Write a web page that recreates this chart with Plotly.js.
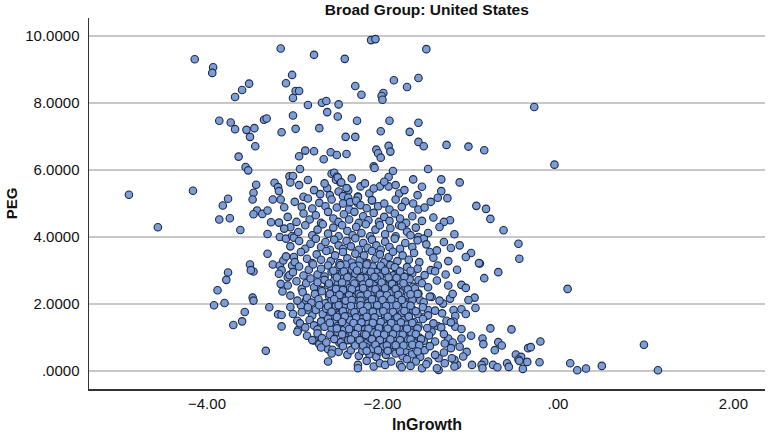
<!DOCTYPE html>
<html>
<head>
<meta charset="utf-8">
<script src="https://cdn.plot.ly/plotly-3.0.1.min.js"></script>
<style>
  html, body { margin: 0; padding: 0; background: #fff; }
  #chart { width: 769px; height: 436px; }
</style>
</head>
<body>
<div id="chart"></div>
<script>
// [lnGrowth, PEG] pairs, grouped by region
const upperPoints = [
  [-4.14, 9.31], [-3.93, 9.07], [-3.94, 8.90], [-3.16, 9.63], [-2.78, 9.44], [-2.43, 9.32],
  [-3.03, 8.84], [-3.10, 8.59], [-3.52, 8.58], [-3.60, 8.39], [-3.68, 8.18], [-2.99, 8.36],
  [-2.95, 8.36], [-3.02, 8.15], [-2.85, 7.94], [-2.69, 8.01], [-2.64, 8.06], [-2.50, 7.96],
  [-2.63, 7.73], [-2.51, 7.60], [-3.02, 7.63], [-3.86, 7.47], [-3.73, 7.42], [-3.68, 7.22],
  [-3.55, 7.20], [-3.46, 7.25], [-3.51, 6.99], [-3.35, 7.50], [-3.32, 7.54], [-3.15, 7.13],
  [-2.99, 7.23], [-2.72, 7.25], [-2.42, 6.99], [-3.45, 6.71], [-3.64, 6.40], [-3.56, 6.09],
  [-3.53, 5.99], [-2.95, 6.41], [-2.88, 6.58], [-2.78, 6.56], [-2.67, 6.32], [-2.59, 6.53],
  [-2.52, 6.45], [-2.41, 6.48], [-2.94, 6.03], [-3.06, 5.81], [-3.02, 5.82], [-3.05, 5.63],
  [-2.58, 5.89], [-2.55, 5.92], [-2.52, 5.80], [-2.53, 5.71], [-2.48, 5.63], [-2.51, 5.78],
  [-2.40, 5.44], [-2.63, 5.46], [-2.71, 5.28], [-2.50, 5.36], [-3.44, 5.56], [-3.23, 5.62],
  [-3.19, 5.49], [-3.18, 5.37], [-3.47, 5.32], [-4.89, 5.26], [-4.16, 5.38],
  [-2.13, 9.88], [-2.08, 9.91], [-1.50, 9.61], [-2.31, 8.51], [-2.24, 8.25], [-1.87, 8.68],
  [-1.59, 8.75], [-1.72, 8.48], [-1.99, 8.30], [-2.01, 8.21], [-2.00, 8.10], [-0.27, 7.88],
  [-2.29, 7.47], [-1.92, 7.47], [-1.59, 7.41], [-2.02, 7.16], [-1.69, 7.14], [-2.31, 6.99],
  [-1.93, 6.72], [-1.91, 6.55], [-1.59, 6.84], [-1.53, 6.71], [-1.27, 6.75], [-1.02, 6.70],
  [-0.84, 6.59], [-2.07, 6.61], [-2.05, 6.50], [-2.02, 6.37], [-2.10, 6.11], [-2.09, 6.06],
  [-1.88, 5.97], [-1.48, 6.03], [-0.04, 6.16], [-1.93, 5.79], [-1.33, 5.72], [-1.12, 5.63],
  [-2.25, 5.51], [-2.03, 5.51], [-1.93, 5.51], [-1.33, 5.37], [-1.81, 5.30], [-2.47, 5.63],
  [-2.39, 5.39], [-2.41, 5.46], [-2.28, 5.21], [-1.37, 5.17], [-1.26, 5.16]
];

const leftPoints = [
  [-4.56, 4.29], [-3.76, 5.14], [-3.82, 4.94], [-3.86, 4.52], [-3.74, 4.56], [-3.62, 4.21],
  [-3.48, 5.12], [-3.25, 5.12], [-3.16, 5.12], [-3.12, 4.89], [-3.43, 4.79], [-3.37, 4.69],
  [-3.31, 4.79], [-3.47, 4.68], [-3.27, 4.44], [-3.18, 4.43], [-3.31, 4.09], [-3.05, 4.29],
  [-3.17, 4.00], [-3.10, 3.95], [-3.03, 4.03], [-3.01, 3.98], [-3.31, 3.50], [-3.51, 3.18],
  [-3.47, 2.97], [-3.50, 3.01], [-3.76, 2.94], [-3.78, 2.72], [-3.88, 2.41], [-3.92, 1.96],
  [-3.80, 2.03], [-3.48, 2.19], [-3.47, 2.10], [-3.57, 1.76], [-3.60, 1.48], [-3.70, 1.37],
  [-3.29, 1.90], [-3.33, 0.60], [-3.25, 3.18], [-3.17, 3.15], [-3.13, 3.30], [-3.15, 3.01],
  [-3.18, 2.90], [-3.16, 2.60], [-3.14, 2.37], [-3.19, 1.69], [-3.15, 1.67], [-3.15, 1.33],
  [-3.05, 1.91], [-3.02, 1.70], [-2.97, 1.50], [-2.96, 1.23], [-2.97, 1.17], [-3.08, 2.80],
  [-3.06, 2.86], [-3.03, 3.15], [-3.01, 3.40], [-2.93, 1.96], [-2.87, 2.11], [-2.84, 1.81],
  [-2.78, 0.91], [-2.72, 0.80], [-2.62, 0.28], [-2.62, 0.65], [-2.57, 0.63], [-2.50, 0.57],
  [-2.49, 0.84]
];

const rightPoints = [
  [-0.82, 4.84], [-0.77, 4.54], [-0.62, 4.20], [-0.45, 3.80], [-0.44, 3.35], [-0.89, 3.21],
  [-0.84, 2.77], [-0.68, 2.95], [0.11, 2.45], [-0.77, 1.27], [-0.53, 1.24], [-0.86, 0.97],
  [-0.85, 0.80], [-0.68, 0.86], [-0.64, 0.76], [-0.72, 0.62], [-0.34, 0.68], [-0.31, 0.71],
  [-0.20, 0.88], [-0.48, 0.49], [-0.42, 0.42], [-0.45, 0.34], [-0.44, 0.30], [-0.35, 0.27],
  [-0.21, 0.26], [-0.84, 0.27], [-0.87, 0.18], [-0.86, 0.08], [-0.74, 0.18], [-0.69, 0.11],
  [-0.58, 0.23], [-0.56, 0.12], [-0.40, 0.06], [0.14, 0.23], [0.22, 0.02], [0.32, 0.07],
  [0.50, 0.15], [0.98, 0.78], [1.14, 0.02],
  [-1.74, 5.06], [-1.59, 4.82], [-0.93, 4.93], [-1.23, 4.50], [-1.81, 4.35], [-1.72, 4.16],
  [-1.59, 4.00], [-1.53, 3.95], [-1.46, 3.55], [-1.38, 3.60], [-1.22, 3.67], [-0.99, 3.52],
  [-0.90, 3.22], [-1.45, 3.01], [-1.37, 3.15], [-1.10, 2.57], [-0.95, 2.19], [-0.94, 1.88],
  [-1.23, 2.16], [-1.31, 2.01], [-1.10, 1.84], [-1.19, 1.82], [-1.17, 1.64], [-1.19, 1.47],
  [-1.17, 1.32], [-0.99, 1.05], [-1.27, 1.50], [-1.25, 0.97], [-1.29, 0.82], [-1.10, 0.97],
  [-1.12, 0.72], [-1.04, 0.57], [-1.08, 0.43], [-1.15, 0.18], [-1.18, 0.33], [-1.21, 0.38],
  [-0.98, 0.18], [-1.36, 0.38], [-1.36, 0.03], [-1.48, 0.28], [-1.40, 0.48], [-1.37, 1.34],
  [-1.44, 1.17], [-1.52, 1.62], [-1.48, 1.82], [-1.44, 2.21], [-1.57, 2.11], [-1.59, 2.71],
  [-1.70, 2.81], [-1.65, 2.51], [-1.59, 2.31]
];

const corePoints = [
  [-2.95, 5.55], [-2.85, 5.70], [-2.78, 5.40], [-2.66, 5.60], [-2.60, 5.25], [-2.35, 5.75],
  [-2.20, 5.60], [-2.15, 5.30], [-2.10, 5.45], [-1.98, 5.65], [-1.85, 5.55], [-1.75, 5.40],
  [-1.65, 5.72], [-1.60, 5.25], [-1.55, 5.50], [-2.90, 5.20], [-2.45, 5.22],
  [-2.39, 5.17], [-2.37, 5.04], [-2.28, 5.19], [-2.28, 5.01], [-2.12, 5.09],
  [-3.00, 5.05], [-2.92, 4.90], [-2.85, 5.15], [-2.80, 4.85], [-2.72, 5.02], [-2.65, 4.92],
  [-2.58, 5.12], [-2.52, 4.88], [-2.45, 5.00], [-2.38, 4.82], [-2.30, 5.08], [-2.25, 4.95],
  [-2.18, 4.86], [-2.12, 5.10], [-2.05, 4.92], [-1.98, 5.00], [-1.92, 4.82], [-1.85, 5.12],
  [-1.78, 4.90], [-1.65, 5.00], [-1.52, 4.88], [-1.45, 5.05],
  [-3.08, 4.60], [-2.98, 4.45], [-2.90, 4.70], [-2.83, 4.52], [-2.76, 4.65], [-2.70, 4.42],
  [-2.62, 4.75], [-2.56, 4.55], [-2.50, 4.45], [-2.44, 4.68], [-2.38, 4.52], [-2.32, 4.75],
  [-2.27, 4.42], [-2.22, 4.62], [-2.16, 4.50], [-2.10, 4.72], [-2.04, 4.45], [-1.98, 4.60],
  [-1.92, 4.48], [-1.86, 4.70], [-1.80, 4.55], [-1.73, 4.42], [-1.66, 4.62], [-1.55, 4.48],
  [-1.42, 4.58], [-1.30, 4.45],
  [-3.12, 4.25], [-2.96, 4.15], [-2.88, 4.35], [-2.80, 4.05], [-2.74, 4.22], [-2.68, 4.38],
  [-2.62, 4.10], [-2.56, 4.28], [-2.50, 4.02], [-2.46, 4.35], [-2.40, 4.18], [-2.34, 4.05],
  [-2.30, 4.30], [-2.24, 4.12], [-2.19, 4.38], [-2.14, 4.02], [-2.08, 4.22], [-2.03, 4.35],
  [-1.97, 4.08], [-1.91, 4.26], [-1.85, 4.02], [-1.78, 4.32], [-1.68, 4.05], [-1.62, 4.28],
  [-1.48, 4.12], [-1.35, 4.30], [-1.18, 4.08],
  [-3.05, 3.72], [-2.95, 3.88], [-2.88, 3.65], [-2.82, 3.80], [-2.76, 3.95], [-2.70, 3.70],
  [-2.65, 3.85], [-2.60, 3.62], [-2.55, 3.92], [-2.50, 3.75], [-2.45, 3.64], [-2.41, 3.88],
  [-2.36, 3.72], [-2.31, 3.96], [-2.27, 3.62], [-2.22, 3.82], [-2.17, 3.68], [-2.12, 3.92],
  [-2.07, 3.75], [-2.02, 3.62], [-1.97, 3.86], [-1.92, 3.70], [-1.86, 3.95], [-1.80, 3.65],
  [-1.74, 3.82], [-1.66, 3.70], [-1.60, 3.90], [-1.50, 3.78], [-1.30, 3.85], [-1.12, 3.75],
  [-3.10, 3.42], [-3.00, 3.25], [-2.93, 3.55], [-2.86, 3.35], [-2.80, 3.22], [-2.75, 3.48],
  [-2.70, 3.32], [-2.64, 3.58], [-2.59, 3.28], [-2.54, 3.45], [-2.49, 3.22], [-2.45, 3.55],
  [-2.40, 3.36], [-2.35, 3.24], [-2.31, 3.50], [-2.26, 3.30], [-2.21, 3.45], [-2.17, 3.22],
  [-2.12, 3.58], [-2.08, 3.35], [-2.03, 3.48], [-1.98, 3.25], [-1.93, 3.40], [-1.88, 3.56],
  [-1.83, 3.28], [-1.77, 3.45], [-1.70, 3.32], [-1.64, 3.52], [-1.58, 3.25], [-1.42, 3.38],
  [-1.25, 3.28], [-1.05, 3.40],
  [-3.02, 2.95], [-2.95, 3.12], [-2.90, 2.85], [-2.84, 3.02], [-2.79, 3.18], [-2.74, 2.88],
  [-2.70, 3.05], [-2.66, 2.82], [-2.62, 3.15], [-2.58, 2.96], [-2.54, 2.84], [-2.50, 3.10],
  [-2.46, 2.92], [-2.42, 3.18], [-2.38, 2.85], [-2.35, 3.02], [-2.31, 2.90], [-2.27, 3.14],
  [-2.23, 2.83], [-2.19, 3.00], [-2.15, 2.88], [-2.11, 3.12], [-2.07, 2.95], [-2.03, 2.82],
  [-1.99, 3.06], [-1.95, 2.90], [-1.91, 3.16], [-1.87, 2.86], [-1.82, 3.00], [-1.77, 2.84],
  [-1.72, 3.10], [-1.66, 2.92], [-1.60, 3.05], [-1.52, 2.86], [-1.40, 2.98], [-1.28, 2.88],
  [-1.15, 3.02],
  [-3.08, 2.55], [-2.98, 2.68], [-2.92, 2.45], [-2.87, 2.62], [-2.82, 2.76], [-2.78, 2.50],
  [-2.74, 2.65], [-2.70, 2.42], [-2.66, 2.72], [-2.62, 2.56], [-2.58, 2.44], [-2.55, 2.70],
  [-2.51, 2.58], [-2.48, 2.46], [-2.44, 2.76], [-2.41, 2.62], [-2.37, 2.48], [-2.34, 2.70],
  [-2.30, 2.54], [-2.27, 2.42], [-2.24, 2.66], [-2.20, 2.78], [-2.17, 2.52], [-2.13, 2.40],
  [-2.10, 2.64], [-2.06, 2.75], [-2.03, 2.50], [-1.99, 2.60], [-1.95, 2.44], [-1.91, 2.72],
  [-1.87, 2.56], [-1.83, 2.42], [-1.79, 2.68], [-1.74, 2.52], [-1.69, 2.74], [-1.63, 2.46],
  [-1.55, 2.62], [-1.48, 2.50], [-1.38, 2.70], [-1.25, 2.55], [-1.05, 2.48],
  [-3.05, 2.25], [-2.97, 2.10], [-2.91, 2.35], [-2.86, 2.18], [-2.81, 2.04], [-2.77, 2.30],
  [-2.73, 2.14], [-2.69, 2.38], [-2.65, 2.02], [-2.61, 2.24], [-2.58, 2.12], [-2.54, 2.36],
  [-2.51, 2.06], [-2.47, 2.28], [-2.44, 2.16], [-2.40, 2.02], [-2.37, 2.34], [-2.33, 2.20],
  [-2.30, 2.08], [-2.27, 2.30], [-2.23, 2.14], [-2.20, 2.38], [-2.16, 2.04], [-2.13, 2.26],
  [-2.09, 2.12], [-2.06, 2.36], [-2.02, 2.02], [-1.99, 2.22], [-1.95, 2.10], [-1.92, 2.32],
  [-1.88, 2.00], [-1.84, 2.18], [-1.80, 2.34], [-1.76, 2.08], [-1.71, 2.26], [-1.66, 2.12],
  [-1.60, 2.30], [-1.53, 2.05], [-1.46, 2.22], [-1.35, 2.10], [-1.20, 2.30], [-1.02, 2.12],
  [-2.92, 1.75], [-2.85, 1.90], [-2.80, 1.66], [-2.76, 1.82], [-2.72, 1.96], [-2.68, 1.70],
  [-2.64, 1.86], [-2.60, 1.62], [-2.56, 1.78], [-2.53, 1.94], [-2.49, 1.68], [-2.46, 1.84],
  [-2.42, 1.98], [-2.39, 1.64], [-2.35, 1.80], [-2.32, 1.92], [-2.28, 1.70], [-2.25, 1.86],
  [-2.21, 1.62], [-2.18, 1.76], [-2.14, 1.96], [-2.11, 1.68], [-2.07, 1.84], [-2.04, 1.74],
  [-2.00, 1.92], [-1.97, 1.62], [-1.93, 1.80], [-1.90, 1.95], [-1.86, 1.68], [-1.82, 1.86],
  [-1.78, 1.72], [-1.74, 1.98], [-1.70, 1.64], [-1.65, 1.82], [-1.60, 1.70], [-1.54, 1.90],
  [-1.48, 1.66], [-1.40, 1.80], [-1.32, 1.72], [-1.05, 1.70],
  [-2.94, 1.42], [-2.88, 1.30], [-2.83, 1.52], [-2.78, 1.36], [-2.74, 1.24], [-2.70, 1.48],
  [-2.66, 1.32], [-2.62, 1.56], [-2.58, 1.26], [-2.55, 1.44], [-2.51, 1.34], [-2.48, 1.58],
  [-2.44, 1.22], [-2.41, 1.40], [-2.37, 1.52], [-2.34, 1.28], [-2.30, 1.46], [-2.27, 1.36],
  [-2.23, 1.55], [-2.20, 1.24], [-2.16, 1.42], [-2.13, 1.30], [-2.09, 1.54], [-2.06, 1.38],
  [-2.02, 1.26], [-1.99, 1.48], [-1.95, 1.34], [-1.92, 1.56], [-1.88, 1.22], [-1.85, 1.44],
  [-1.81, 1.30], [-1.77, 1.52], [-1.73, 1.38], [-1.69, 1.25], [-1.64, 1.46], [-1.59, 1.34],
  [-1.54, 1.55], [-1.49, 1.28], [-1.42, 1.42], [-1.33, 1.30], [-1.22, 1.45], [-1.10, 1.25],
  [-2.86, 1.05], [-2.80, 0.92], [-2.74, 1.12], [-2.69, 0.98], [-2.64, 0.85], [-2.60, 1.08],
  [-2.55, 0.95], [-2.51, 1.16], [-2.47, 0.86], [-2.43, 1.02], [-2.39, 0.92], [-2.35, 1.14],
  [-2.32, 0.82], [-2.28, 1.00], [-2.24, 0.90], [-2.21, 1.10], [-2.17, 0.84], [-2.14, 0.98],
  [-2.10, 1.15], [-2.07, 0.88], [-2.03, 1.04], [-2.00, 0.94], [-1.96, 1.12], [-1.93, 0.82],
  [-1.89, 1.00], [-1.86, 0.90], [-1.82, 1.08], [-1.79, 0.86], [-1.75, 1.02], [-1.71, 0.94],
  [-1.67, 1.14], [-1.63, 0.84], [-1.58, 1.00], [-1.53, 0.90], [-1.47, 1.06], [-1.40, 0.88],
  [-1.30, 1.10], [-1.20, 0.85],
  [-2.70, 0.70], [-2.58, 0.52], [-2.45, 0.74], [-2.40, 0.48], [-2.36, 0.62], [-2.31, 0.76],
  [-2.27, 0.45], [-2.23, 0.60], [-2.19, 0.72], [-2.15, 0.50], [-2.11, 0.66], [-2.07, 0.42],
  [-2.03, 0.58], [-1.99, 0.74], [-1.96, 0.48], [-1.92, 0.64], [-1.88, 0.78], [-1.85, 0.52],
  [-1.81, 0.68], [-1.77, 0.44], [-1.74, 0.60], [-1.70, 0.75], [-1.66, 0.50], [-1.62, 0.66],
  [-1.57, 0.42], [-1.52, 0.62], [-1.46, 0.74], [-1.30, 0.55], [-1.22, 0.68],
  [-2.28, 0.18], [-2.28, 0.08], [-2.10, 0.13], [-2.03, 0.23], [-1.97, 0.18], [-1.90, 0.28],
  [-1.80, 0.18], [-1.78, 0.11], [-1.72, 0.35], [-1.62, 0.28], [-1.55, 0.08], [-1.50, 0.20],
  [-1.38, 0.08], [-1.29, 0.23], [-1.18, 0.13], [-2.18, 0.30], [-1.68, 0.15]
];

// the darkest, most crowded part of the cloud
const denseCorePoints = [
  [-2.48, 3.16], [-2.33, 3.12], [-2.18, 3.18], [-2.02, 3.14], [-1.86, 3.10],
  [-2.56, 2.99], [-2.44, 2.97], [-2.29, 3.00], [-2.13, 2.96], [-1.97, 2.99], [-1.80, 2.97], [-1.68, 2.99],
  [-2.52, 2.79], [-2.40, 2.80], [-2.25, 2.78], [-2.09, 2.81], [-1.93, 2.79], [-1.84, 2.78], [-1.75, 2.81],
  [-2.61, 2.61], [-2.46, 2.64], [-2.32, 2.61], [-2.22, 2.58], [-2.15, 2.63], [-2.01, 2.64], [-1.89, 2.60],
  [-1.76, 2.62],
  [-2.53, 2.45], [-2.45, 2.42], [-2.35, 2.44], [-2.22, 2.47], [-2.08, 2.44], [-1.97, 2.47], [-1.85, 2.45],
  [-1.71, 2.43],
  [-2.60, 2.30], [-2.49, 2.27], [-2.38, 2.26], [-2.25, 2.24], [-2.17, 2.29], [-2.03, 2.28], [-1.95, 2.26],
  [-1.82, 2.27], [-1.68, 2.29],
  [-2.55, 2.14], [-2.42, 2.10], [-2.35, 2.12], [-2.25, 2.10], [-2.12, 2.14], [-2.00, 2.12], [-1.90, 2.14],
  [-1.78, 2.12],
  [-2.62, 1.93], [-2.50, 1.96], [-2.36, 1.94], [-2.25, 1.96], [-2.17, 1.93], [-2.06, 1.96], [-1.96, 1.94],
  [-1.84, 1.96], [-1.68, 1.95],
  [-2.58, 1.77], [-2.45, 1.78], [-2.32, 1.75], [-2.22, 1.79], [-2.11, 1.77], [-1.99, 1.78], [-1.88, 1.76],
  [-1.75, 1.79], [-1.62, 1.78],
  [-2.52, 1.61], [-2.43, 1.63], [-2.30, 1.60], [-2.18, 1.62], [-2.09, 1.60], [-1.94, 1.62], [-1.83, 1.60],
  [-1.70, 1.62],
  [-2.60, 1.44], [-2.46, 1.46], [-2.33, 1.43], [-2.24, 1.45], [-2.11, 1.44], [-2.02, 1.46], [-1.90, 1.43],
  [-1.79, 1.45], [-1.66, 1.43],
  [-2.52, 1.27], [-2.38, 1.25], [-2.28, 1.28], [-2.16, 1.26], [-2.04, 1.28], [-1.94, 1.26], [-1.84, 1.28],
  [-1.72, 1.26], [-1.60, 1.27],
  [-2.46, 1.09], [-2.31, 1.10], [-2.19, 1.08], [-2.06, 1.11], [-1.98, 1.08], [-1.88, 1.10], [-1.77, 1.08],
  [-1.62, 1.10],
  [-2.36, 0.94], [-2.26, 0.92], [-2.12, 0.95], [-2.03, 0.92], [-1.91, 0.94], [-1.80, 0.92], [-1.68, 0.94],
  [-1.56, 0.95],
  [-2.22, 0.76], [-2.08, 0.78], [-1.95, 0.76], [-1.85, 0.77], [-1.76, 0.76], [-1.66, 0.78], [-1.58, 0.77],
  [-2.18, 0.60], [-2.05, 0.62], [-1.94, 0.60], [-1.80, 0.58], [-1.60, 0.58]
];

const allPoints = upperPoints.concat(leftPoints, rightPoints, corePoints, denseCorePoints);
const lnGrowth = allPoints.map(p => p[0]);
const peg = allPoints.map(p => p[1]);

const yTickVals = [0, 2, 4, 6, 8, 10];
const yTickText = ['.0000', '2.0000', '4.0000', '6.0000', '8.0000', '10.0000'];
const xTickVals = [-4, -2, 0, 2];
const xTickText = ['\u22124.00', '\u22122.00', '.00', '2.00'];

const FONT = 'Liberation Sans, Arial, Helvetica, sans-serif';

Plotly.newPlot('chart', [{
    x: lnGrowth,
    y: peg,
    type: 'scatter',
    mode: 'markers',
    marker: {
      size: 7.5,
      color: '#7d9dd6',
      line: {color: '#1d2a48', width: 1.1}
    },
    hoverinfo: 'skip'
  }], {
    width: 769,
    height: 436,
    margin: {l: 89, r: 4, t: 18, b: 47},
    paper_bgcolor: '#ffffff',
    plot_bgcolor: '#ffffff',
    showlegend: false,
    font: {family: FONT, color: '#111111'},
    title: {
      text: '<b>Broad Group: United States</b>',
      font: {family: FONT, size: 15.5, color: '#111111'},
      x: 0.555, xanchor: 'center',
      y: 0.977, yanchor: 'middle'
    },
    xaxis: {
      range: [-5.345, 2.36],
      tickvals: xTickVals,
      ticktext: xTickText,
      tickfont: {size: 15},
      ticks: '',
      ticklabelstandoff: 0,
      showgrid: false,
      zeroline: false,
      showline: true,
      linecolor: '#333333',
      linewidth: 1.5,
      title: {text: '<b>lnGrowth</b>', font: {size: 16}, standoff: 8}
    },
    yaxis: {
      range: [-0.54, 10.54],
      tickvals: yTickVals,
      ticktext: yTickText,
      tickfont: {size: 15},
      ticks: '',
      ticklabelstandoff: 5,
      showgrid: true,
      gridcolor: '#c8c8c8',
      gridwidth: 1.5,
      zeroline: false,
      showline: true,
      linecolor: '#333333',
      linewidth: 1.5,
      title: {text: '<b>PEG</b>', font: {size: 15}, standoff: 4}
    }
  }, {
    staticPlot: true
});
</script>
</body>
</html>
